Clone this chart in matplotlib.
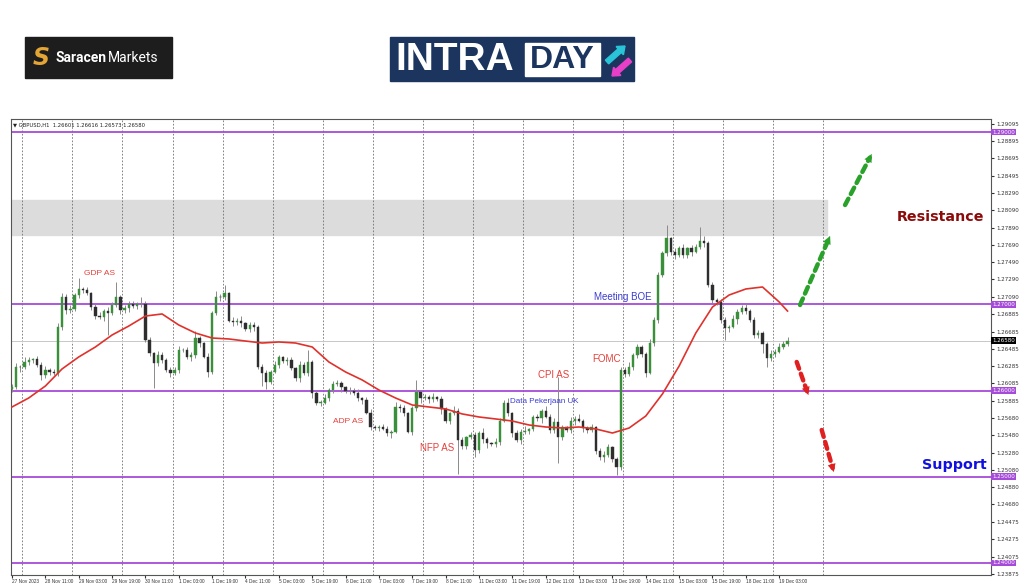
import matplotlib
matplotlib.use("Agg")
import matplotlib.pyplot as plt
from matplotlib.patches import Rectangle, FancyArrow
from matplotlib.transforms import blended_transform_factory

W, H = 1024, 587

# GBPUSD, 2-hour candles (27 Nov 2023 19:00 -> 19 Dec 2023)
first_open = 1.26020
closes = [
    1.26046, 1.26278, 1.26270, 1.26336, 1.26355, 1.26363, 1.26297, 1.26181, 1.26239, 1.26220,
    1.26200, 1.26742, 1.27090, 1.26935, 1.26943, 1.27109, 1.27175, 1.27167, 1.27128, 1.26974,
    1.26865, 1.26850, 1.26927, 1.26904, 1.26993, 1.27090, 1.26935, 1.26954, 1.27005, 1.26981,
    1.27005, 1.27005, 1.26587, 1.26432, 1.26316, 1.26413, 1.26355, 1.26239, 1.26208, 1.26239,
    1.26471, 1.26471, 1.26394, 1.26413, 1.26606, 1.26548, 1.26394, 1.26220, 1.26896, 1.27090,
    1.27082, 1.27128, 1.26811, 1.26796, 1.26811, 1.26780, 1.26711, 1.26761, 1.26742, 1.26278,
    1.26200, 1.26104, 1.26220, 1.26297, 1.26386, 1.26347, 1.26355, 1.26258, 1.26142, 1.26297,
    1.26200, 1.26336, 1.25968, 1.25860, 1.25860, 1.25910, 1.26007, 1.26077, 1.26084, 1.26038,
    1.25999, 1.25999, 1.25968, 1.25910, 1.25891, 1.25744, 1.25582, 1.25570, 1.25574, 1.25558,
    1.25504, 1.25524, 1.25814, 1.25794, 1.25736, 1.25524, 1.25794, 1.25988, 1.25910, 1.25922,
    1.25899, 1.25922, 1.25899, 1.25783, 1.25651, 1.25736, 1.25767, 1.25427, 1.25357, 1.25458,
    1.25485, 1.25311, 1.25512, 1.25435, 1.25388, 1.25377, 1.25408, 1.25651, 1.25860, 1.25736,
    1.25504, 1.25427, 1.25524, 1.25535, 1.25551, 1.25690, 1.25678, 1.25767, 1.25698, 1.25543,
    1.25640, 1.25466, 1.25574, 1.25543, 1.25651, 1.25674, 1.25651, 1.25562, 1.25543, 1.25574,
    1.25303, 1.25226, 1.25253, 1.25342, 1.25203, 1.25118, 1.26239, 1.26193, 1.26278, 1.26413,
    1.26502, 1.26425, 1.26208, 1.26548, 1.26819, 1.27341, 1.27592, 1.27766, 1.27612, 1.27573,
    1.27650, 1.27573, 1.27650, 1.27612, 1.27670, 1.27739, 1.27708, 1.27225, 1.27051, 1.27032,
    1.26819, 1.26722, 1.26742, 1.26827, 1.26916, 1.26954, 1.26927, 1.26819, 1.26645, 1.26664,
    1.26541, 1.26374, 1.26425, 1.26452, 1.26510, 1.26541, 1.26580,
]
# wick lengths in pips
wick_up = [
    3, 4, 2, 5, 3, 2, 4, 3, 5, 2,  3, 4, 4, 3, 5, 2, 13, 3, 4, 2,
    3, 5, 2, 4, 3, 17, 2, 4, 3, 3,  2, 8, 3, 4, 2, 5, 3, 2, 4, 3,
    5, 2, 3, 4, 8, 3, 2, 4, 3, 6,  3, 10, 2, 4, 3, 5, 2, 3, 4, 2,
    3, 4, 2, 5, 3, 2, 4, 3, 2, 5,  3, 13, 2, 4, 3, 5, 2, 3, 4, 3,
    2, 4, 3, 5, 2, 3, 4, 2, 3, 4,  3, 2, 5, 3, 4, 2, 3, 13, 2, 4,
    3, 5, 2, 4, 3, 2, 5, 3, 4, 2,  3, 4, 2, 5, 3, 2, 4, 3, 3, 5,
    2, 4, 3, 5, 2, 3, 4, 2, 5, 3,  4, 52, 3, 2, 4, 3, 5, 2, 3, 4,
    2, 3, 5, 4, 2, 3, 4, 3, 5, 2,  4, 3, 2, 5, 3, 4, 3, 16, 2, 4,
    3, 5, 2, 4, 3, 16, 5, 3, 4, 2,  3, 4, 2, 5, 3, 4, 6, 2, 3, 4,
    3, 2, 5, 3, 4, 3, 4,
]
wick_dn = [
    4, 3, 5, 2, 4, 3, 2, 6, 3, 4,  2, 3, 4, 5, 3, 2, 4, 3, 2, 4,
    3, 2, 4, 26, 3, 2, 5, 3, 4, 2,  3, 4, 2, 3, 29, 3, 4, 2, 5, 3,
    4, 2, 3, 5, 3, 4, 2, 6, 3, 2,  4, 3, 2, 5, 3, 4, 2, 3, 5, 3,
    15, 8, 3, 2, 4, 3, 5, 2, 3, 4,  2, 3, 5, 3, 4, 2, 3, 4, 2, 5,
    3, 4, 2, 3, 5, 2, 4, 3, 4, 2,  3, 5, 2, 4, 3, 2, 4, 3, 5, 2,
    4, 3, 2, 5, 3, 4, 2, 39, 3, 4,  2, 8, 3, 4, 5, 2, 3, 4, 2, 3,
    4, 2, 5, 3, 4, 2, 3, 5, 2, 4,  3, 31, 4, 2, 3, 5, 2, 4, 3, 2,
    4, 3, 5, 2, 3, 10, 4, 3, 2, 4,  3, 4, 5, 2, 3, 4, 2, 3, 4, 5,
    2, 4, 3, 5, 2, 3, 4, 2, 3, 4,  3, 14, 4, 2, 5, 3, 4, 2, 3, 4,
    11, 10, 3, 4, 2, 3, 2,
]

# moving average read every 4 candles
ma_idx = list(range(0, 185, 4)) + [186]
ma_vals = [
    1.25810, 1.25914, 1.26053, 1.26251, 1.26390, 1.26506, 1.26645, 1.26749, 1.26865, 1.26889,
    1.26761, 1.26668, 1.26610, 1.26599, 1.26575, 1.26552, 1.26564, 1.26552, 1.26506, 1.26332,
    1.26216, 1.26123, 1.26007, 1.25914, 1.25833, 1.25810, 1.25787, 1.25729, 1.25694, 1.25671,
    1.25647, 1.25601, 1.25578, 1.25566, 1.25578, 1.25555, 1.25508, 1.25566, 1.25705, 1.25961,
    1.26285, 1.26668, 1.26970, 1.27109, 1.27179, 1.27202, 1.27028, 1.26923,
]

levels = [1.29, 1.27, 1.26, 1.25, 1.24]
bid = 1.26580
zone = (1.2781, 1.2821)

ytick_vals = [1.29095, 1.28895, 1.28695, 1.28495, 1.28290, 1.28090, 1.27890, 1.27690, 1.27490,
              1.27290, 1.27090, 1.26885, 1.26685, 1.26485, 1.26285, 1.26085, 1.25885, 1.25680,
              1.25480, 1.25280, 1.25080, 1.24880, 1.24680, 1.24475, 1.24275, 1.24075, 1.23875]
xtick_labels = ["27 Nov 2023", "28 Nov 11:00", "29 Nov 03:00", "29 Nov 19:00", "30 Nov 11:00",
                "1 Dec 03:00", "1 Dec 19:00", "4 Dec 11:00", "5 Dec 03:00", "5 Dec 19:00",
                "6 Dec 11:00", "7 Dec 03:00", "7 Dec 19:00", "8 Dec 11:00", "11 Dec 03:00",
                "11 Dec 19:00", "12 Dec 11:00", "13 Dec 03:00", "13 Dec 19:00", "14 Dec 11:00",
                "15 Dec 03:00", "15 Dec 19:00", "18 Dec 11:00", "19 Dec 03:00"]

RED = "#e4413b"
BLUE = "#3c3cd2"
events = [
    ("GDP AS", 21.0, 1.27353, RED, 6),
    ("Meeting BOE", 146.5, 1.27089, BLUE, 7),
    ("FOMC", 142.7, 1.26363, RED, 7),
    ("CPI AS", 130.0, 1.26181, RED, 7),
    ("Data Pekerjaan UK", 127.7, 1.25879, BLUE, 5.8),
    ("ADP AS", 80.7, 1.25639, RED, 6),
    ("NFP AS", 102.0, 1.25338, RED, 7),
]

fig = plt.figure(figsize=(W / 100, H / 100), dpi=100)

# ---- logos (pixel overlay) ----
bg = fig.add_axes([0, 0, 1, 1])
bg.set_xlim(0, W)
bg.set_ylim(H, 0)
bg.axis("off")
bg.add_patch(Rectangle((25, 37), 147, 41, color="#1d1d1d"))
bg.text(41, 58, "S", fontsize=17, fontweight="bold", color="#e3a535", ha="center", va="center",
        family="DejaVu Sans", style="italic")
bg.text(56, 58, "Saracen", fontsize=10, fontweight="bold", color="white", ha="left", va="center",
        family="Roboto")
bg.text(108, 58, "Markets", fontsize=10, color="white", ha="left", va="center", family="Roboto")

bg.add_patch(Rectangle((390, 37), 244, 44, color="#1b355f"))
bg.text(395, 60, "INTRA", fontsize=28, fontweight="bold", color="white", ha="left", va="center",
        family="Liberation Sans")
bg.add_patch(Rectangle((525, 43), 75, 33, color="white"))
bg.text(562, 60, "DAY", fontsize=23, fontweight="bold", color="#1b355f", ha="center", va="center",
        family="Liberation Sans")
bg.add_patch(FancyArrow(607, 62, 18, -16, width=5, head_width=11, head_length=7,
                        color="#29c4d8", length_includes_head=True))
bg.add_patch(FancyArrow(630, 60, -18, 16, width=5, head_width=11, head_length=7,
                        color="#e83fc8", length_includes_head=True))

# ---- chart ----
ax = fig.add_axes([11 / W, (H - 575) / H, 980 / W, (575 - 119) / H])
ax.set_facecolor("white")

px = 8620.0
ax.set_ylim(1.29 - (575 - 132) / px, 1.29 + (132 - 119) / px)
ax.set_xlim(-0.24, 234.8)

# resistance zone
ax.axhspan(zone[0], zone[1], xmin=0, xmax=(195.4 + 0.24) / 235.04, color="#dcdcdc", zorder=0)

# daily grid
for k in range(17):
    ax.axvline(2.5 + 12 * k, color="#6e6e6e", lw=0.6, ls=(0, (2, 2)), zorder=1)

ax.axhline(bid, color="#c8c8c8", lw=0.7, zorder=1)
for lv in levels:
    ax.axhline(lv, color="#a64bd9", lw=1.3, zorder=2)

# candles
opens = [first_open] + closes[:-1]
for i, (o, c) in enumerate(zip(opens, closes)):
    hi = max(o, c) + wick_up[i] * 1e-4
    lo = min(o, c) - wick_dn[i] * 1e-4
    up = c >= o
    col = "#3a8f3a" if up else "#2e2e2e"
    ax.vlines(i, lo, hi, color="#8a8a8a", lw=0.7, zorder=3)
    ax.bar(i, c - o if abs(c - o) > 1e-5 else 2e-5, bottom=o, width=0.55,
           color=col, edgecolor=col, lw=0.3, zorder=4)

ax.plot(ma_idx, ma_vals, color="#e0322c", lw=1.2, zorder=5)

# events
for label, x, y, col, fs in events:
    ax.text(x, y, label, color=col, fontsize=fs, ha="center", va="center",
            family="Liberation Sans", zorder=6)

ax.text(222.8, 1.28014, "Resistance", color="#8b0a0a", fontsize=10.3, fontweight="bold",
        ha="center", va="center", zorder=6)
ax.text(226.1, 1.25137, "Support", color="#1010e0", fontsize=10.3, fontweight="bold",
        ha="center", va="center", zorder=6)

# dashed arrows
def dashed_arrow(start, end, col):
    ax.annotate("", xy=end, xytext=start,
                arrowprops=dict(arrowstyle="-", color=col, lw=3.2, ls=(0, (1.6, 1.2)),
                                shrinkA=0, shrinkB=3))
    ax.annotate("", xy=end, xytext=(end[0] - (end[0] - start[0]) * 0.25,
                                    end[1] - (end[1] - start[1]) * 0.25),
                arrowprops=dict(arrowstyle="-|>", color=col, lw=0.1, mutation_scale=14,
                                shrinkA=0, shrinkB=0))

GREEN = "#2aa12a"
dashed_arrow((189.0, 1.26993), (196.2, 1.27794), GREEN)
dashed_arrow((199.8, 1.28153), (206.2, 1.28745), GREEN)
dashed_arrow((188.2, 1.26332), (191.0, 1.25949), "#e02020")
dashed_arrow((194.2, 1.25543), (197.1, 1.25056), "#e02020")

# header
ax.text(0.002, 0.992, "\u25bc GBPUSD,H1  1.26601 1.26616 1.26573 1.26580", transform=ax.transAxes,
        fontsize=3.8, color="#222222", ha="left", va="top")

# axes / ticks
for s in ax.spines.values():
    s.set_color("#555555")
    s.set_linewidth(0.8)
ax.yaxis.tick_right()
ax.set_yticks(ytick_vals)
ax.set_yticklabels([f"{v:.5f}" for v in ytick_vals])
ax.tick_params(axis="y", labelsize=4, length=2, pad=2, colors="#333333")
ax.set_xticks([8 * i for i in range(len(xtick_labels))])
ax.set_xticklabels(xtick_labels)
ax.tick_params(axis="x", labelsize=3.4, length=2, pad=1, colors="#333333")
for lab in ax.get_xticklabels():
    lab.set_ha("left")
    lab.set_family("Liberation Sans")

tr = blended_transform_factory(ax.transAxes, ax.transData)
for lv in levels:
    ax.text(1.001, lv, f"{lv:.5f}", transform=tr, fontsize=4, color="white", ha="left",
            va="center", bbox=dict(boxstyle="square,pad=0.15", fc="#a64bd9", ec="none"), zorder=7)
ax.text(1.001, bid, f"{bid:.5f}", transform=tr, fontsize=4, color="white", ha="left",
        va="center", bbox=dict(boxstyle="square,pad=0.15", fc="black", ec="none"), zorder=7)

fig.savefig("out.png", dpi=100, facecolor="white")
